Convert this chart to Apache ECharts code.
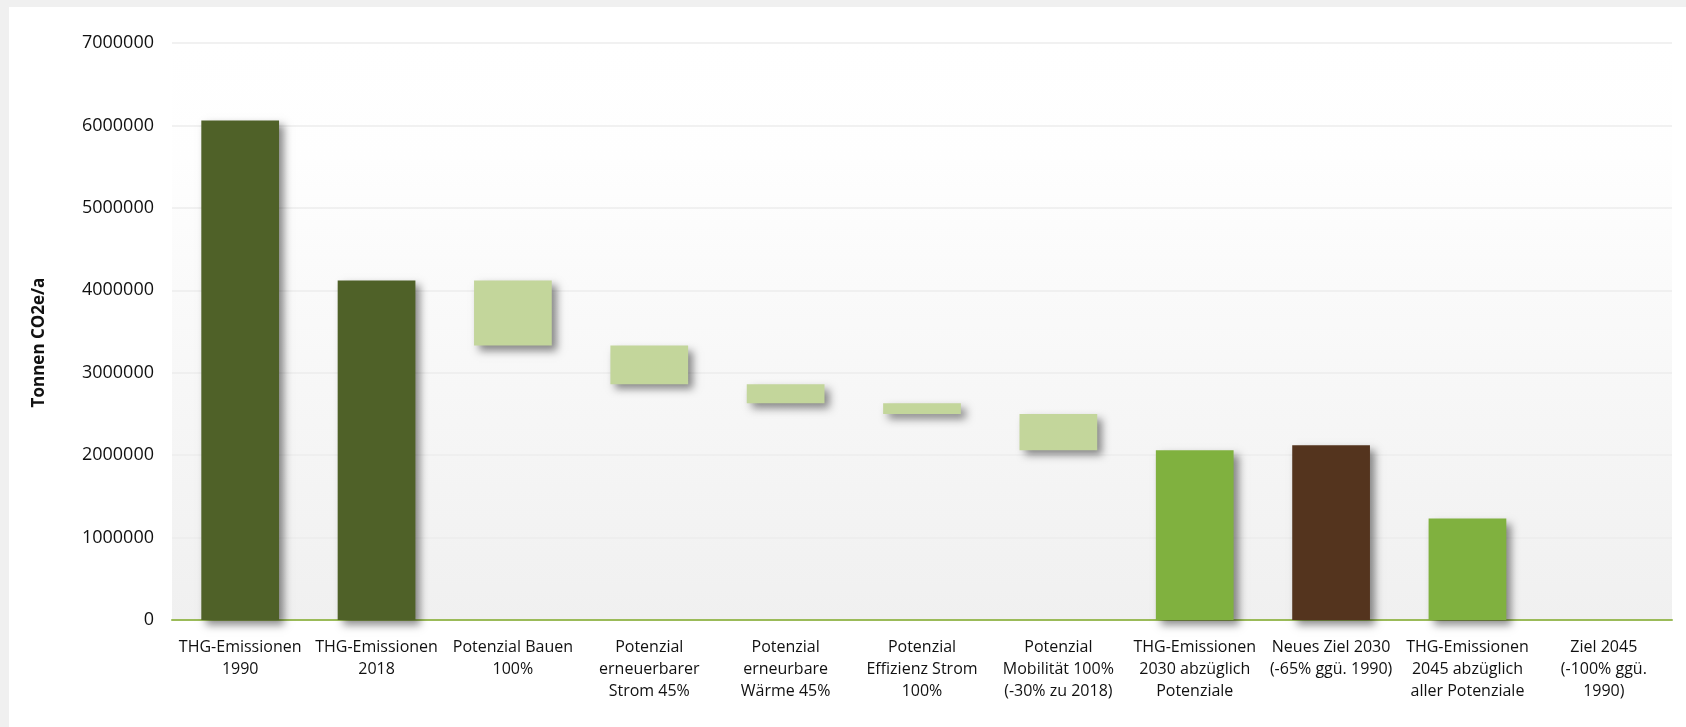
<!DOCTYPE html>
<html><head><meta charset="utf-8">
<script src="https://cdn.jsdelivr.net/npm/echarts@6/dist/echarts.min.js"></script>
<style>
html,body{margin:0;padding:0;background:#F0F0F0;width:1686px;height:727px;overflow:hidden}
#c{position:absolute;left:9px;top:7px;width:1677px;height:720px;background:#fff}
</style>
</head><body><div id="c"></div>
<script>
const categories = [
  'THG-Emissionen\n1990',
  'THG-Emissionen\n2018',
  'Potenzial Bauen\n100%',
  'Potenzial\nerneuerbarer\nStrom 45%',
  'Potenzial\nerneurbare\nWärme 45%',
  'Potenzial\nEffizienz Strom\n100%',
  'Potenzial\nMobilität 100%\n(-30% zu 2018)',
  'THG-Emissionen\n2030 abzüglich\nPotenziale',
  'Neues Ziel 2030\n(-65% ggü. 1990)',
  'THG-Emissionen\n2045 abzüglich\naller Potenziale',
  'Ziel 2045\n(-100% ggü.\n1990)'
];
// lower edge of each (floating) bar
const barBottom = [0, 0, 3330000, 2860000, 2630000, 2500000, 2060000, 0, 0, 0, 0];
// visible height of each bar
const barHeight = [6060000, 4120000, 790000, 470000, 230000, 130000, 440000, 2060000, 2120000, 1230000, 0];
const barColors = ['#4F6128', '#4F6128', '#C3D69B', '#C3D69B', '#C3D69B', '#C3D69B', '#C3D69B', '#80B13F', '#54341E', '#80B13F', '#80B13F'];
const yMin = 0, yMax = 7000000, yInterval = 1000000;

const chart = echarts.init(document.getElementById('c'), null, {renderer: 'canvas'});
chart.setOption({
  animation: false,
  grid: {
    left: 163, right: 14, top: 36, bottom: 107,
    show: true, borderWidth: 0,
    backgroundColor: new echarts.graphic.LinearGradient(0, 0, 0, 1, [
      {offset: 0, color: '#FFFFFF'},
      {offset: 0.2, color: '#FEFEFE'},
      {offset: 1, color: '#F0F0F0'}
    ])
  },
  xAxis: {
    type: 'category',
    data: categories,
    axisLine: {show: true, lineStyle: {color: '#9BBB59', width: 2}},
    axisTick: {show: false},
    axisLabel: {
      interval: 0, margin: 16, color: '#111',
      fontFamily: 'Open Sans', fontSize: 16, lineHeight: 22
    },
    splitLine: {show: false}
  },
  yAxis: {
    type: 'value',
    min: yMin, max: yMax, interval: yInterval,
    name: 'Tonnen CO2e/a',
    nameLocation: 'middle',
    nameGap: 124,
    nameTextStyle: {fontFamily: 'Open Sans', fontWeight: 'bold', fontSize: 17, color: '#111', padding: [0, 22, 0, 0]},
    axisLine: {show: false},
    axisTick: {show: false},
    axisLabel: {margin: 18, color: '#111', fontFamily: 'Open Sans', fontSize: 18, formatter: v => String(v)},
    splitLine: {show: true, lineStyle: {color: '#ECECEC', width: 1.5}}
  },
  series: [
    {
      type: 'bar', stack: 'w', barWidth: '57%', silent: true,
      itemStyle: {color: 'rgba(0,0,0,0)'},
      data: barBottom
    },
    {
      type: 'bar', stack: 'w', barWidth: '57%',
      data: barHeight.map((v, i) => ({
        value: v,
        itemStyle: {
          color: barColors[i],
          shadowBlur: 8, shadowOffsetX: 5, shadowOffsetY: 5,
          shadowColor: 'rgba(0,0,0,0.45)'
        }
      }))
    }
  ]
});
</script>
</body></html>
